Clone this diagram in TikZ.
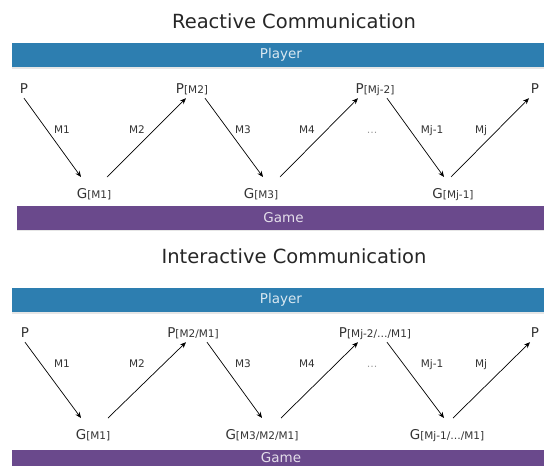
\documentclass[tikz,border=0pt]{standalone}
\usepackage{fontspec}
\setmainfont{DejaVu Sans}
\usepackage{tikz}
\usetikzlibrary{arrows,arrows.meta,shapes,positioning,shadows}
\usepackage{xcolor}
\definecolor{barblue}{RGB}{45,126,176}
\definecolor{barpurple}{RGB}{106,73,140}
\definecolor{txtgrey}{RGB}{51,51,51}
\tikzstyle{arrow} = [-{Stealth[length=6pt,width=5pt]},line width=0.7pt,color=black]
\tikzstyle{heading} = [anchor=base, text=black!85, font=\fontsize{19.5}{20}\selectfont]
\tikzstyle{lane} = [rectangle, minimum height=24pt, inner sep=0pt, font=\fontsize{13.5}{14}\selectfont, drop shadow={shadow xshift=0pt, shadow yshift=-1.5pt, opacity=0.2}]
\tikzstyle{playerlane} = [lane, fill=barblue, text=white!82!barblue]
\tikzstyle{gamelane} = [lane, fill=barpurple, text=white!82!barpurple]
\tikzstyle{pnode} = [anchor=base, inner sep=2pt, text height=10pt, text depth=3pt, text=txtgrey, font=\fontsize{13.5}{14}\selectfont]
\tikzstyle{gnode} = [pnode, outer ysep=9pt]
\tikzstyle{msg} = [anchor=base, inner sep=0pt, text=txtgrey, font=\fontsize{10.5}{11}\selectfont]
\newcommand{\msub}[1]{{\fontsize{10.5}{11}\selectfont #1}}

\begin{document}
\begin{tikzpicture}[x=1pt, y=-1pt]
\useasboundingbox (0,0) rectangle (544,466);

% Reactive communication
\node (reactive) [heading] at (294,28) {Reactive Communication};
\node (player1) [playerlane, minimum width=538pt] at (281,55) {Player};
\node (game1) [gamelane, minimum width=533pt] at (283.5,217.5) {Game};

% Player and game states
\node (p0) [pnode] at (24,93) {P};
\node (p1) [pnode] at (192,93) {P\msub{[M2]}};
\node (p2) [pnode] at (375,93) {P\msub{[Mj-2]}};
\node (p3) [pnode] at (535,93) {P};
\node (g1) [gnode] at (94,198) {G\msub{[M1]}};
\node (g2) [gnode] at (261,198) {G\msub{[M3]}};
\node (g3) [gnode] at (453,198) {G\msub{[Mj-1]}};

% Messages
\draw[arrow] (p0.south) -- ([xshift=-13pt]g1.north);
\draw[arrow] ([xshift=13pt]g1.north) -- ([xshift=-6pt]p1.south);
\draw[arrow] ([xshift=13pt]p1.south) -- ([xshift=2pt]g2.north);
\draw[arrow] ([xshift=19pt]g2.north) -- ([xshift=-17pt]p2.south);
\draw[arrow] ([xshift=12pt]p2.south) -- ([xshift=-9pt]g3.north);
\draw[arrow] ([xshift=-2pt]g3.north) -- ([xshift=-6pt]p3.south);

\node (m1) [msg] at (62,133) {M1};
\node (m2) [msg] at (137,133) {M2};
\node (m3) [msg] at (243,133) {M3};
\node (m4) [msg] at (307,133) {M4};
\node (dots1) [msg, text=black!40] at (372,133) {…};
\node (mj1) [msg] at (432,133) {Mj-1};
\node (mj) [msg] at (481,133) {Mj};

% Interactive communication
\node (interactive) [heading] at (294,263) {Interactive Communication};
\node (player2) [playerlane, minimum width=538pt] at (281,300) {Player};
\node (game2) [gamelane, minimum width=538pt, minimum height=16pt] at (281,458) {Game};

% Player and game states
\node (q0) [pnode] at (25,337) {P};
\node (q1) [pnode] at (193,337) {P\msub{[M2/M1]}};
\node (q2) [pnode] at (375,337) {P\msub{[Mj-2/…/M1]}};
\node (q3) [pnode] at (535,337) {P};
\node (h1) [gnode] at (93,439) {G\msub{[M1]}};
\node (h2) [gnode] at (262,439) {G\msub{[M3/M2/M1]}};
\node (h3) [gnode] at (447,439) {G\msub{[Mj-1/…/M1]}};

% Messages
\draw[arrow] (q0.south) -- ([xshift=-12pt]h1.north);
\draw[arrow] ([xshift=15pt]h1.north) -- ([xshift=-7pt]q1.south);
\draw[arrow] ([xshift=14pt]q1.south) -- (h2.north);
\draw[arrow] ([xshift=19pt]h2.north) -- ([xshift=-17pt]q2.south);
\draw[arrow] ([xshift=12pt]q2.south) -- ([xshift=-3pt]h3.north);
\draw[arrow] ([xshift=6pt]h3.north) -- ([xshift=-5pt]q3.south);

\node (n1) [msg] at (62,367) {M1};
\node (n2) [msg] at (137,367) {M2};
\node (n3) [msg] at (243,367) {M3};
\node (n4) [msg] at (307,367) {M4};
\node (dots2) [msg, text=black!40] at (372,367) {…};
\node (nj1) [msg] at (432,367) {Mj-1};
\node (nj) [msg] at (481,367) {Mj};
\end{tikzpicture}
\end{document}
